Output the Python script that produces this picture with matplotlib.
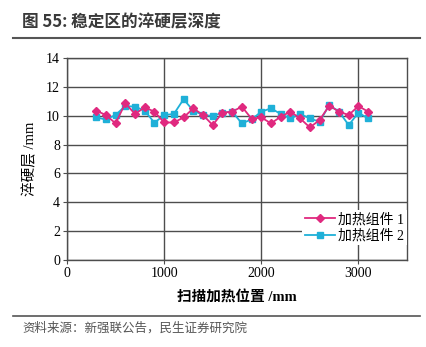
import matplotlib
matplotlib.use("Agg")
import matplotlib.pyplot as plt
from matplotlib.lines import Line2D

plt.rcParams['font.family'] = ['Liberation Serif', 'Noto Sans CJK SC']

# scan position (mm)
positions = [300, 400, 500, 600, 700, 800, 900, 1000, 1100, 1200,
             1300, 1400, 1500, 1600, 1700, 1800, 1900, 2000, 2100, 2200,
             2300, 2400, 2500, 2600, 2700, 2800, 2900, 3000, 3100]
# hardened layer depth (mm)
depth_1 = [10.35, 10.05, 9.47, 10.86, 10.12, 10.58, 10.28, 9.53, 9.53, 9.88,
           10.51, 10.05, 9.35, 10.21, 10.28, 10.63, 9.79, 9.88, 9.47, 9.93,
           10.28, 9.81, 9.19, 9.70, 10.70, 10.28, 10.05, 10.67, 10.28]
depth_2 = [9.88, 9.74, 10.05, 10.67, 10.63, 10.35, 9.51, 10.05, 10.12, 11.14,
           10.35, 10.05, 9.98, 10.21, 10.28, 9.47, 9.74, 10.28, 10.51, 10.12,
           9.81, 10.12, 9.81, 9.58, 10.74, 10.28, 9.35, 10.21, 9.81]
labels = ['加热组件 1', '加热组件 2']

pink = '#e0297f'
cyan = '#1fb0d8'
grid_c = '#4d4d4d'

fig = plt.figure(figsize=(4.27, 3.47), dpi=100)

# header / footer
fig.text(22 / 427, 1 - 22 / 347, '图 55: 稳定区的淬硬层深度', fontsize=12,
         fontweight='bold', color='#3a3a3a', va='center', ha='left',
         family=['Noto Sans CJK SC', 'DejaVu Sans'])
fig.add_artist(Line2D([13 / 427, 420 / 427], [1 - 38 / 347] * 2,
                      color='#555555', lw=1.5))
fig.add_artist(Line2D([13 / 427, 420 / 427], [1 - 316 / 347] * 2,
                      color='#555555', lw=1.2))
fig.text(22 / 427, 1 - 328 / 347, '资料来源：新强联公告，民生证券研究院',
         fontsize=9, color='#555555', va='center', ha='left',
         family=['Noto Sans CJK SC', 'DejaVu Sans'])

ax = fig.add_axes([67 / 427, 87 / 347, 340 / 427, 202 / 347])
ax.plot(positions, depth_1, color=pink, marker='D', markersize=4,
        lw=1.3, label=labels[0], zorder=3)
ax.plot(positions, depth_2, color=cyan, marker='s', markersize=4.5,
        lw=1.3, label=labels[1], zorder=2)

ax.set_xlim(0, 3500)
ax.set_ylim(0, 14)
ax.set_xticks([0, 1000, 2000, 3000])
ax.set_yticks(range(0, 15, 2))
ax.grid(True, color=grid_c, lw=1.0)
ax.set_axisbelow(True)
for s in ax.spines.values():
    s.set_color(grid_c)
    s.set_linewidth(1.0)
ax.tick_params(length=3, width=0.8, color=grid_c, labelsize=10, pad=2)

ax.set_xlabel('扫描加热位置 /mm', fontsize=10.5, fontweight='bold', labelpad=8)
ax.set_ylabel('淬硬层 /mm', fontsize=10.5, labelpad=6)

leg = ax.legend(loc='center right', bbox_to_anchor=(1.0, 0.16),
                borderaxespad=0, frameon=True, fancybox=False,
                handlelength=2.2, handletextpad=0.2, labelspacing=0.2,
                borderpad=0.2, fontsize=10)
leg.get_frame().set_edgecolor('none')
leg.get_frame().set_facecolor('white')
leg.get_frame().set_alpha(1)

fig.savefig('out.png', dpi=100)
